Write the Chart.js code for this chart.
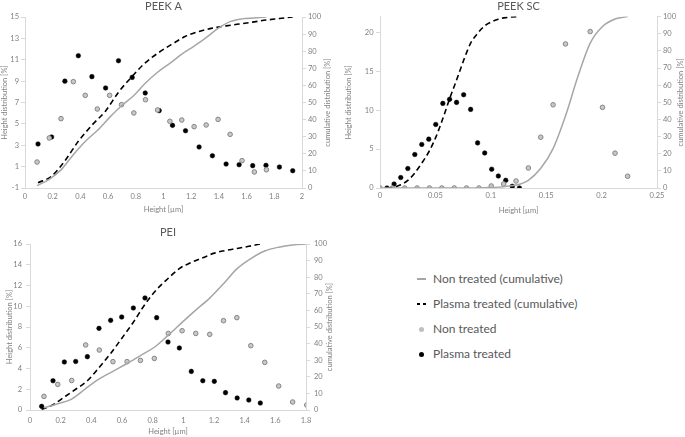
<!DOCTYPE html>
<html>
<head>
<meta charset="utf-8">
<script src="https://cdn.jsdelivr.net/npm/chart.js@4.4.1/dist/chart.umd.min.js"></script>
<style>
  body { margin: 0; width: 685px; height: 437px; background: #fff; position: relative; overflow: hidden; font-family: Lato, sans-serif; }
  canvas { position: absolute; }
  .item { position: absolute; left: 410px; height: 16px; width: 240px; white-space: nowrap; color: #595959; font-size: 12px; }
  .item span.txt { position: absolute; left: 23px; top: 0; line-height: 16px; }
  .sym { position: absolute; }
</style>
</head>
<body>
<canvas id="peekA" width="340" height="220" style="left:0;top:0"></canvas>
<canvas id="peekSC" width="345" height="220" style="left:340px;top:0"></canvas>
<canvas id="pei" width="340" height="217" style="left:0;top:220px"></canvas>

<div class="item" style="top:271px">
  <div class="sym" style="left:7px;top:7.25px;width:9px;height:1.5px;background:#a6a6a6"></div>
  <span class="txt">Non treated (cumulative)</span>
</div>
<div class="item" style="top:296px">
  <div class="sym" style="left:7px;top:7.25px;width:3px;height:1.6px;background:#000"></div>
  <div class="sym" style="left:13px;top:7.25px;width:3px;height:1.6px;background:#000"></div>
  <span class="txt">Plasma treated (cumulative)</span>
</div>
<div class="item" style="top:321px">
  <div class="sym" style="left:9px;top:5.5px;width:5px;height:5px;border-radius:50%;background:#bfbfbf"></div>
  <span class="txt">Non treated</span>
</div>
<div class="item" style="top:346px">
  <div class="sym" style="left:9px;top:5.5px;width:5px;height:5px;border-radius:50%;background:#000"></div>
  <span class="txt">Plasma treated</span>
</div>

<script>
// PEEK A
let aNonX = [0.087, 0.175, 0.26, 0.349, 0.435, 0.522, 0.611, 0.697, 0.786, 0.87, 0.957, 1.046, 1.132, 1.221, 1.308, 1.394, 1.481, 1.567, 1.656, 1.743];
let aNon = [1.43, 3.68, 5.49, 8.95, 7.67, 6.39, 7.67, 6.8, 6.02, 7.26, 6.3, 5.24, 5.36, 4.74, 4.9, 5.42, 4.02, 1.56, 0.5, 0.71];
let aNonCum = [1.4, 5.1, 10.6, 19.5, 27.2, 33.6, 41.3, 48.1, 54.1, 61.4, 67.7, 72.9, 78.3, 83, 87.9, 93.3, 97.3, 98.9, 99.4, 100];
let aPlX = [0.094, 0.192, 0.288, 0.385, 0.483, 0.582, 0.675, 0.774, 0.868, 0.969, 1.065, 1.159, 1.257, 1.353, 1.452, 1.546, 1.644, 1.74, 1.837, 1.933];
let aPl = [3.12, 3.77, 9.0, 11.38, 9.42, 8.36, 10.91, 9.35, 7.89, 6.24, 4.86, 4.36, 2.84, 2.02, 1.24, 1.18, 1.09, 1.12, 0.96, 0.62];
let aPlCum = [3.1, 6.9, 15.9, 27.3, 36.7, 45.1, 56, 65.3, 73.2, 79.4, 84.3, 88.7, 91.5, 93.5, 94.8, 95.9, 97, 98.2, 99.1, 100];

// PEEK SC
let scNonX = [0, 0.0112, 0.0223, 0.0335, 0.0446, 0.0558, 0.067, 0.0781, 0.0893, 0.1004, 0.1116, 0.1228, 0.1339, 0.1451, 0.1562, 0.1674, 0.1786, 0.1897, 0.2008, 0.2121, 0.2235];
let scNon = [0, 0, 0, 0, 0, 0, 0, 0, 0, 0.26, 0.52, 0.9, 2.57, 6.52, 10.68, 18.49, 23.6, 20.08, 10.35, 4.47, 1.51];
let scNonCum = [0, 0, 0, 0, 0, 0, 0, 0, 0, 0.3, 0.8, 1.7, 4.5, 11.5, 23, 42, 65, 84.5, 94.2, 98.6, 100];
let scPlX = [0.0063, 0.0127, 0.0187, 0.0251, 0.0314, 0.0377, 0.044, 0.0503, 0.0567, 0.0628, 0.0691, 0.0755, 0.0818, 0.0881, 0.0945, 0.1008, 0.1068, 0.1135, 0.1194, 0.1258];
let scPl = [0, 0.51, 1.34, 2.5, 4.3, 5.59, 6.27, 8.16, 10.86, 11.38, 10.99, 11.97, 10.09, 5.79, 4.5, 2.41, 1.54, 0.99, 0.22, 0];
let scPlCum = [0, 0.5, 1.9, 4.4, 8.8, 14.5, 21, 29.5, 40.5, 52, 63, 74.5, 84.5, 90.2, 94.6, 97, 98.5, 99.4, 99.8, 100];

// PEI
let pNonX = [0.091, 0.181, 0.272, 0.363, 0.452, 0.541, 0.633, 0.72, 0.811, 0.902, 0.992, 1.081, 1.172, 1.262, 1.349, 1.44, 1.531, 1.622, 1.713, 1.805];
let pNon = [1.31, 2.47, 2.85, 6.27, 5.78, 4.66, 4.66, 4.78, 4.97, 7.38, 7.64, 7.38, 7.29, 8.61, 8.9, 6.2, 4.59, 2.31, 0.77, 0.48];
let pNonCum = [1.3, 3.8, 6.6, 12.9, 18.7, 23.3, 28, 32.8, 37.8, 45.1, 52.8, 60.2, 67.4, 76.1, 85, 91.2, 95.8, 98.1, 99.4, 100];
let pPlX = [0.076, 0.15, 0.224, 0.298, 0.374, 0.45, 0.526, 0.598, 0.674, 0.75, 0.826, 0.9, 0.974, 1.052, 1.127, 1.202, 1.275, 1.351, 1.427, 1.502];
let pPl = [0.35, 2.82, 4.63, 4.68, 5.14, 7.87, 8.64, 8.96, 9.83, 10.8, 8.9, 6.55, 5.98, 3.72, 2.82, 2.76, 1.67, 1.16, 0.96, 0.67];
let pPlCum = [0.4, 3.2, 7.8, 12.5, 17.6, 25.5, 34.1, 43.1, 52.9, 63.7, 72.6, 79.2, 85.2, 88.9, 91.7, 94.5, 96.1, 97.3, 98.6, 100];

let axisGrey = '#d9d9d9';
let textGrey = '#7f7f7f';

Chart.defaults.font.family = 'Lato';
Chart.defaults.font.size = 7.5;
Chart.defaults.color = textGrey;

// right axis title reads bottom-to-top like in Excel
const rightTitle = {
  id: 'rightTitle',
  afterDraw(chart, args, opts) {
    const ctx = chart.ctx;
    const area = chart.chartArea;
    ctx.save();
    ctx.font = '7.5px Lato';
    ctx.fillStyle = textGrey;
    ctx.textAlign = 'center';
    ctx.textBaseline = 'middle';
    ctx.translate(opts.x, (area.top + area.bottom) / 2);
    ctx.rotate(-Math.PI / 2);
    ctx.fillText('cumulative distribution [%]', 0, 0);
    ctx.restore();
  }
};

function pts(xs, ys) {
  return xs.map((x, i) => ({ x: x, y: ys[i] }));
}

function makeChart(id, title, nonX, non, nonCum, plX, pl, plCum, s) {
  return new Chart(document.getElementById(id).getContext('2d'), {
    type: 'scatter',
    data: {
      datasets: [{
          label: 'Non treated (cumulative)',
          data: pts(nonX, nonCum),
          yAxisID: 'y1',
          showLine: true,
          borderColor: '#a6a6a6',
          borderWidth: 1.5,
          pointRadius: 0,
          cubicInterpolationMode: 'monotone'
        },
        {
          label: 'Plasma treated (cumulative)',
          data: pts(plX, plCum),
          yAxisID: 'y1',
          showLine: true,
          borderColor: '#000',
          borderWidth: 1.6,
          borderDash: [5.5, 3.5],
          pointRadius: 0,
          cubicInterpolationMode: 'monotone'
        },
        {
          label: 'Non treated',
          data: pts(nonX, non),
          yAxisID: 'y',
          pointRadius: 2.3,
          backgroundColor: '#c8c8c8',
          borderColor: '#858585',
          borderWidth: 1
        },
        {
          label: 'Plasma treated',
          data: pts(plX, pl),
          yAxisID: 'y',
          pointRadius: 2.3,
          backgroundColor: '#000',
          borderColor: '#000',
          borderWidth: 0.5
        }
      ]
    },
    options: {
      responsive: false,
      animation: false,
      events: [],
      layout: { padding: 0 },
      plugins: {
        legend: { display: false },
        tooltip: { enabled: false },
        title: {
          display: true,
          text: title,
          fullSize: false,
          color: '#595959',
          font: { size: 11, weight: 'normal' },
          padding: { top: s.tTop, bottom: s.tBottom }
        },
        rightTitle: { x: s.rTitleX }
      },
      scales: {
        x: {
          type: 'linear',
          min: 0,
          max: s.xMax,
          ticks: {
            stepSize: s.xStep,
            padding: s.xPad,
            maxRotation: 0,
            autoSkip: false,
            callback: v => String(parseFloat(v.toFixed(3)))
          },
          grid: { display: false, drawTicks: false },
          border: { display: true, color: axisGrey },
          title: { display: true, text: 'Height [µm]', padding: { top: 0, bottom: s.xTitlePad } },
          afterFit: sc => { sc.height = s.bottom; }
        },
        y: {
          position: 'left',
          min: s.yMin,
          max: s.yMax,
          ticks: { stepSize: s.yStep, padding: s.yPad, includeBounds: false },
          grid: { drawOnChartArea: false, tickLength: 4, color: axisGrey },
          border: { color: axisGrey },
          title: { display: true, text: 'Height distribution [%]', padding: { top: s.yTitlePad, bottom: 0 } },
          afterFit: sc => { sc.width = s.left; }
        },
        y1: {
          position: 'right',
          min: 0,
          max: 100,
          ticks: { stepSize: 10, padding: s.y1Pad },
          grid: { drawOnChartArea: false, tickLength: 4, color: axisGrey },
          border: { color: axisGrey },
          afterFit: sc => { sc.width = s.right; }
        }
      }
    },
    plugins: [rightTitle]
  });
}

makeChart('peekA', 'PEEK A', aNonX, aNon, aNonCum, aPlX, aPl, aPlCum, {
  xMax: 2, xStep: 0.2, yMin: -1, yMax: 15, yStep: 2,
  left: 25, right: 38, bottom: 32, tTop: 0, tBottom: 3.8,
  xPad: 4.5, xTitlePad: 5.5, yPad: 2, y1Pad: 2, yTitlePad: 0.5, rTitleX: 328
});

makeChart('peekSC', 'PEEK SC', scNonX, scNon, scNonCum, scPlX, scPl, scPlCum, {
  xMax: 0.25, xStep: 0.05, yMin: 0, yMax: 22, yStep: 5,
  left: 40, right: 28, bottom: 32, tTop: 0, tBottom: 3.4,
  xPad: 3.5, xTitlePad: 4.5, yPad: 2.5, y1Pad: 2, yTitlePad: 3.8, rTitleX: 340.5
});

makeChart('pei', 'PEI', pNonX, pNon, pNonCum, pPlX, pPl, pPlCum, {
  xMax: 1.8, xStep: 0.2, yMin: 0, yMax: 16, yStep: 2,
  left: 30, right: 34, bottom: 27, tTop: 6, tBottom: 4.8,
  xPad: 6.2, xTitlePad: 0.8, yPad: 4, y1Pad: 4, yTitlePad: 5.5, rTitleX: 330
});
</script>
</body>
</html>
